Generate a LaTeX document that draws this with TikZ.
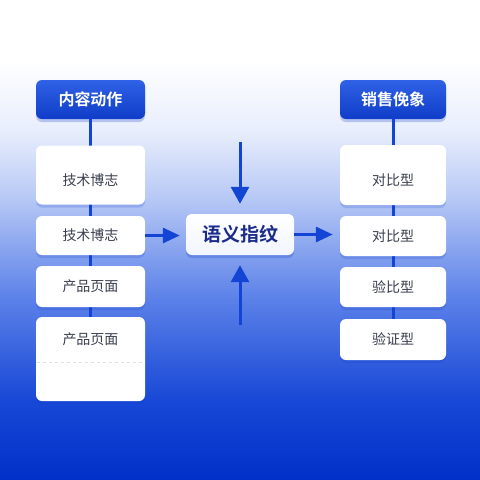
\documentclass[tikz,border=0pt]{standalone}
\usepackage{fontspec}
\setmainfont{Noto Sans CJK SC}[BoldFont={Noto Sans CJK SC Bold}]
\usetikzlibrary{arrows.meta,shadows}
\definecolor{bgA}{HTML}{0030C8}
\definecolor{bgB}{HTML}{1848D6}
\definecolor{bgC}{HTML}{5A80E8}
\definecolor{bgD}{HTML}{B5C7F5}
\definecolor{bgE}{HTML}{E8EEFC}
\definecolor{hdTop}{HTML}{2F62E6}
\definecolor{hdBot}{HTML}{0F3CC8}
\definecolor{lineblue}{HTML}{1444D4}
\definecolor{boxtext}{HTML}{3A3F4F}
\definecolor{navy}{HTML}{1B2B8C}
\pgfdeclareverticalshading{bgshade}{100bp}{color(0bp)=(bgA); color(25bp)=(bgA); color(33.33bp)=(bgB); color(43.75bp)=(bgC); color(54.17bp)=(bgD); color(61.46bp)=(bgE); color(68.75bp)=(white); color(100bp)=(white)}
\tikzset{
  hdr/.style={draw=none, rounded corners=6pt, top color=hdTop, bottom color=hdBot,
    text=white, font=\bfseries\fontsize{16}{18}\selectfont, minimum height=39pt,
    drop shadow={shadow xshift=0pt, shadow yshift=-3pt, opacity=.25, fill=hdBot}},
  card/.style={draw=none, rounded corners=6pt, fill=white, text=boxtext,
    font=\fontsize{14}{16}\selectfont,
    drop shadow={shadow xshift=0pt, shadow yshift=-3pt, opacity=.18, fill=hdBot}},
  hub/.style={draw=none, rounded corners=6pt, top color=white, bottom color=bgE!60!white,
    text=navy, font=\bfseries\fontsize{19}{21}\selectfont, minimum width=108pt, minimum height=41pt,
    drop shadow={shadow xshift=0pt, shadow yshift=-3pt, opacity=.25, fill=hdBot}},
  spine/.style={draw=lineblue, line width=3pt},
  flow/.style={draw=lineblue, line width=3pt, -{Triangle[length=17pt,width=18pt]}},
  flowh/.style={draw=lineblue, line width=3pt, -{Triangle[length=17pt,width=15pt]}}
}
\begin{document}
\begin{tikzpicture}[x=1pt,y=-1pt]
\useasboundingbox (0,0) rectangle (480,480);
\shade[shading=bgshade] (0,0) rectangle (480,480);

% left column
\node[hdr, minimum width=109pt] (lh) at (90.5,99.5) {内容动作};
\coordinate (lbot) at (90.5,330);
\draw[spine] (lh.south) -- (lbot);
\node[card, minimum width=109pt, minimum height=59pt, text height=22pt, text depth=2pt] (l1) at (90.5,175) {技术博志};
\node[card, minimum width=109pt, minimum height=39pt] (l2) at (90.5,235.5) {技术博志};
\node[card, minimum width=109pt, minimum height=41pt] (l3) at (90.5,286.5) {产品页面};
\node[card, minimum width=109pt, minimum height=84pt, text depth=40pt] (l4) at (90.5,359) {产品页面};
\draw[gray!25, dashed, line width=0.6pt] ([xshift=1pt]l4.west |- 0,362) coordinate (d1) -- ([xshift=-1pt]l4.east |- 0,362) coordinate (d2);

% right column
\node[hdr, minimum width=106pt] (rh) at (393,99.5) {销售俛象};
\coordinate (rbot) at (393,330);
\draw[spine] (rh.south) -- (rbot);
\node[card, minimum width=106pt, minimum height=60pt, text height=22pt, text depth=2pt] (r1) at (393,175) {对比型};
\node[card, minimum width=106pt, minimum height=40pt] (r2) at (393,236) {对比型};
\node[card, minimum width=106pt, minimum height=40pt] (r3) at (393,287) {验比型};
\node[card, minimum width=106pt, minimum height=41pt] (r4) at (393,339.5) {验证型};

% hub
\node[hub] (hub) at (240,234.5) {语义指纹};
\coordinate (tin) at (240,142);
\coordinate (bin) at (240,325);
\draw[flow, shorten >=10pt] (tin) -- (hub.north);
\draw[flow, shorten >=10pt] (bin) -- (hub.south);
\draw[flowh, shorten >=6pt] (l2.east) -- (l2.east -| hub.west);
\draw[flowh, shorten >=7pt] (hub.east) -- (hub.east -| r2.west);
\end{tikzpicture}
\end{document}
